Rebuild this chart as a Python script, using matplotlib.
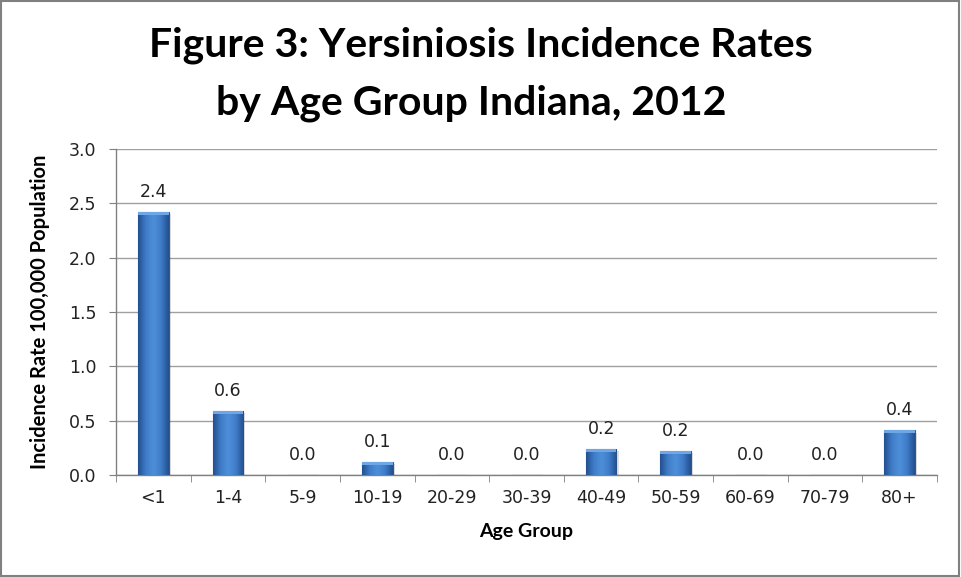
import matplotlib.pyplot as plt
import numpy as np
from matplotlib.colors import LinearSegmentedColormap
from matplotlib.patches import Rectangle

age_groups = ['<1', '1-4', '5-9', '10-19', '20-29', '30-39', '40-49',
              '50-59', '60-69', '70-79', '80+']
rates = [2.42, 0.59, 0.0, 0.12, 0.0, 0.0, 0.24, 0.22, 0.0, 0.0, 0.41]
rate_labels = ['2.4', '0.6', '0.0', '0.1', '0.0', '0.0', '0.2', '0.2',
               '0.0', '0.0', '0.4']
y_ticks = [0.0, 0.5, 1.0, 1.5, 2.0, 2.5, 3.0]

narrow = ['Lato', 'DejaVu Sans']

fig = plt.figure(figsize=(9.61, 5.77), dpi=100)
fig.patch.set_facecolor('white')
fig.patches.append(Rectangle((0.001, 0.002), 0.997, 0.996, transform=fig.transFigure,
                             fill=False, edgecolor='#808080', linewidth=1.5))

ax = fig.add_axes([116 / 961, 1 - 475 / 577, 821 / 961, 326 / 577])

x = np.arange(len(age_groups))
bars = ax.bar(x, rates, width=0.41, color='#3F7CC8', edgecolor='#2A5A98',
              linewidth=0.8, zorder=3)

# shading across each bar to mimic the bevelled look
cmap = LinearSegmentedColormap.from_list(
    'bevel', ['#23508F', '#3F7CC8', '#4E8FDA', '#3F7CC8', '#23508F'])
grad = np.linspace(0, 1, 64).reshape(1, -1)
for b in bars:
    h = b.get_height()
    if h <= 0:
        continue
    x0 = b.get_x()
    w = b.get_width()
    im = ax.imshow(grad, cmap=cmap, aspect='auto', extent=(x0, x0 + w, 0, h),
                   zorder=4, interpolation='bicubic')
    im.set_clip_path(b)
    # light top cap
    ax.add_patch(Rectangle((x0, h - 0.025), w, 0.025, facecolor='#6FA6E6',
                           edgecolor='none', zorder=5))
    # faint shadow
    ax.add_patch(Rectangle((x0 + 0.03, -0.0), w, h - 0.02, facecolor='#000000',
                           alpha=0.12, edgecolor='none', zorder=2))

for xi, r, lab in zip(x, rates, rate_labels):
    ax.text(xi, r + 0.138, lab, ha='center', va='baseline', fontsize=12.5,
            color='#222222', family='DejaVu Sans', zorder=6)

ax.set_xlim(-0.5, len(age_groups) - 0.5)
ax.set_ylim(0, 3.0)
ax.set_yticks(y_ticks)
ax.set_yticklabels([f'{t:.1f}' for t in y_ticks], fontsize=12.5, color='#222222')
ax.set_xticks(x)
ax.set_xticklabels(age_groups, fontsize=12.5, color='#222222')
ax.tick_params(axis='x', length=0, pad=10)
ax.set_xticks(np.arange(-0.5, len(age_groups)), minor=True)
ax.tick_params(axis='x', which='minor', length=5, color='#808080', direction='out')
ax.tick_params(axis='y', length=5, color='#808080', direction='out', pad=9)

ax.grid(axis='y', color='#A0A0A0', linewidth=1.0, zorder=0)
ax.set_axisbelow(True)
for side in ['top', 'right']:
    ax.spines[side].set_visible(False)
for side in ['left', 'bottom']:
    ax.spines[side].set_color('#808080')
    ax.spines[side].set_linewidth(1.0)

ax.set_xlabel('Age Group', fontsize=14, fontweight='bold', family=narrow)
ax.xaxis.set_label_coords(0.5, -(523 - 475) / 326)
ax.set_ylabel('Incidence Rate 100,000 Population', fontsize=14.5,
              fontweight='bold', family=narrow)
ax.yaxis.set_label_coords(-(116 - 50) / 821, 0.5)

fig.text(0.5, 1 - 57 / 577, 'Figure 3: Yersiniosis Incidence Rates',
         ha='center', va='baseline', fontsize=29.5, fontweight='bold', family=narrow)
fig.text(0.49, 1 - 115 / 577, 'by Age Group Indiana, 2012',
         ha='center', va='baseline', fontsize=29.5, fontweight='bold', family=narrow)

fig.savefig('out.png', dpi=100)
